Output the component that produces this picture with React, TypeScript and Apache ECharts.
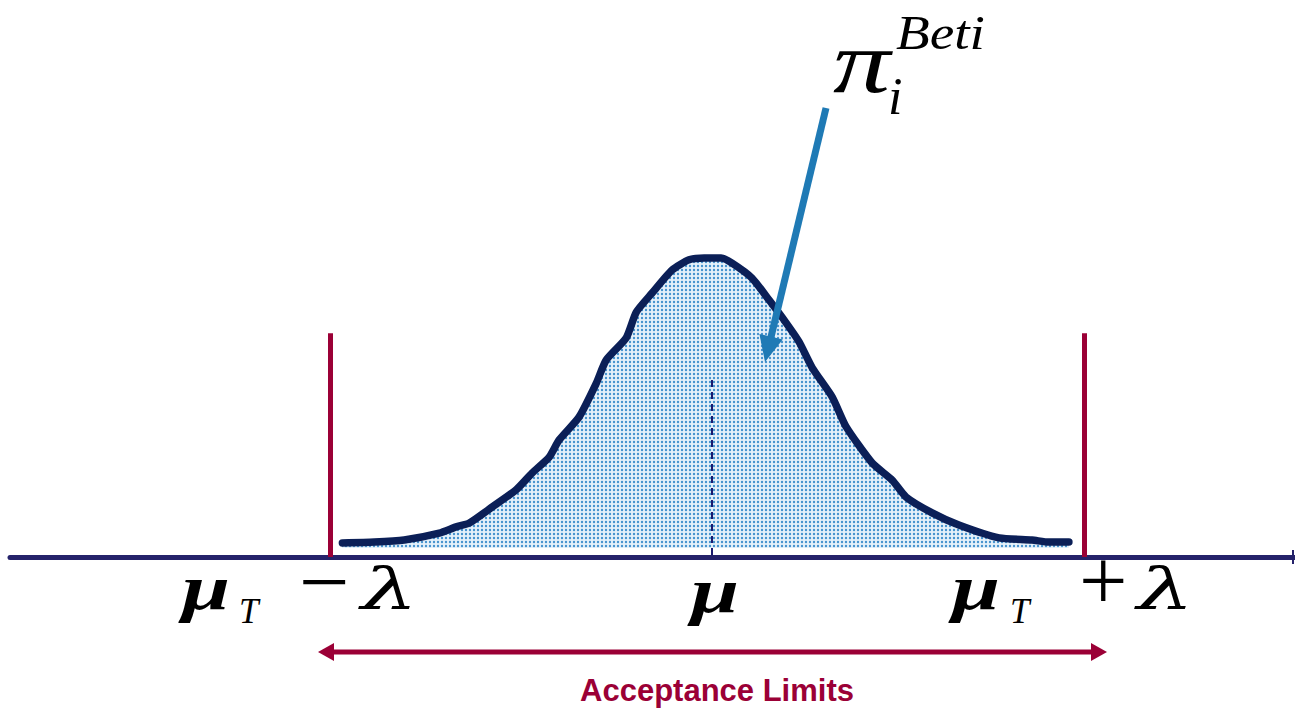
import React, { useEffect, useRef } from "react";
import * as echarts from "echarts";

// Curve of the distribution (x in units of lambda*100 around mu_T, y as % of peak)
const curveX = [-96.8, -88.3, -80.4, -71.1, -66.6, -63.1, -57.0, -50.7, -46.4, -41.9, -39.3, -34.0, -29.4, -26.8, -21.5, -18.8, -14.6, -9.3, -4.8, -0.8, 3.7, 6.6, 11.9, 16.4, 21.0, 24.4, 27.9, 33.2, 36.9, 43.8, 49.1, 52.8, 59.7, 66.8, 77.5, 86.2, 90.7, 96.0];
const curveY = [4.7, 5.0, 5.7, 8.0, 10.1, 11.4, 16.8, 22.5, 28.2, 33.5, 39.2, 46.9, 58.3, 66.0, 73.4, 82.1, 88.5, 96.2, 99.6, 100.2, 100.2, 98.5, 93.5, 86.2, 78.4, 72.1, 63.4, 53.6, 43.6, 31.5, 25.8, 20.1, 14.8, 10.7, 6.4, 5.7, 5.0, 5.0];
const limitsX = [-100, 100];
const limitHeight = 75;
const meanX = 1.3;
const meanTop = 61;
const meanBottom = 0.7;

const serif = '"Liberation Serif", "Times New Roman", serif';
const dejavu = '"DejaVu Serif", serif';

function txt(text: string, x: number, baseline: number, size: number, style: string, family: string, scaleX = 1, extra: any = {}) {
  return {
    type: "text",
    x,
    y: baseline - 0.35 * size,
    scaleX,
    z: 20,
    style: {
      text,
      font: `${style} ${size}px ${family}`,
      fill: "#000",
      verticalAlign: "middle",
      align: "left",
      ...extra,
    },
  };
}

export default function App() {
  const ref = useRef<HTMLDivElement>(null);
  useEffect(() => {
    if (!ref.current) return;
    const chart = echarts.init(ref.current, null, { renderer: "svg" });

    const cv = document.createElement("canvas");
    cv.width = 4;
    cv.height = 4;
    const ctx = cv.getContext("2d")!;
    ctx.fillStyle = "#e6f1fa";
    ctx.fillRect(0, 0, 4, 4);
    ctx.fillStyle = "#4693ce";
    ctx.beginPath();
    ctx.arc(2, 2, 1.2, 0, Math.PI * 2);
    ctx.fill();
    const patternUrl = cv.toDataURL();

    const red = "#9b0036";

    const arrowStart = [826, 108];
    const arrowTip = [765, 362];
    const dx = arrowTip[0] - arrowStart[0];
    const dy = arrowTip[1] - arrowStart[1];
    const len = Math.sqrt(dx * dx + dy * dy);
    const ux = dx / len, uy = dy / len;
    const hl = 26, hw = 12;
    const bx = arrowTip[0] - ux * hl, by = arrowTip[1] - uy * hl;

    chart.setOption({
      animation: false,
      grid: { left: 10, right: 0, top: 20, bottom: 151 },
      xAxis: {
        type: "value",
        min: -185,
        max: 156,
        axisLine: { show: true, onZero: false, lineStyle: { color: "#25226a", width: 5 } },
        axisTick: { show: false },
        axisLabel: { show: false },
        splitLine: { show: false },
      },
      yAxis: { type: "value", min: 0, max: 180, show: false, splitLine: { show: false } },
      series: [
        {
          type: "line",
          data: curveX.map((x, i) => [x, curveY[i]]),
          symbol: "none",
          smooth: 0.2,
          z: 3,
          lineStyle: { color: "#0b1f57", width: 7.5, cap: "round", join: "round" },
          areaStyle: { origin: 3, opacity: 1, color: { image: patternUrl, repeat: "repeat" } },
          markLine: {
            silent: true,
            symbol: "none",
            label: { show: false },
            animation: false,
            data: [
              ...limitsX.map((lx) => [
                { coord: [lx, 0], lineStyle: { color: red, width: 5, type: "solid" } },
                { coord: [lx, limitHeight] },
              ]),
              [
                { coord: [meanX, meanBottom], lineStyle: { color: "#1a1a6e", width: 2, type: [7, 5] } },
                { coord: [meanX, meanTop] },
              ],
            ],
          },
        },
      ],
      graphic: [
        // axis right end tick
        { type: "line", z: 20, shape: { x1: 1293, y1: 550, x2: 1293, y2: 564 }, style: { stroke: "#25226a", lineWidth: 2 } },
        // pi label
        txt("π", 833, 93, 88, "italic", serif, 1.3),
        txt("i", 888, 115, 52, "italic", serif),
        txt("Beti", 896, 50, 48, "italic", serif, 1.15),
        // blue arrow
        { type: "line", z: 20, shape: { x1: arrowStart[0], y1: arrowStart[1], x2: bx + ux * 2, y2: by + uy * 2 }, style: { stroke: "#1f7ab5", lineWidth: 7 } },
        {
          type: "polygon",
          z: 20,
          shape: { points: [arrowTip, [bx - uy * hw, by + ux * hw], [bx + uy * hw, by - ux * hw]] },
          style: { fill: "#1f7ab5" },
        },
        // left label mu_T - lambda
        txt("μ", 182, 610, 64, "bold italic", serif, 1.35),
        txt("T", 239, 624, 35, "italic", serif),
        txt("−", 299, 613, 90, "", serif),
        txt("λ", 361, 609, 58, "italic", dejavu, 1.55),
        // center mu
        txt("μ", 691, 613, 64, "bold italic", serif, 1.35),
        // right label mu_T + lambda
        txt("μ", 952, 610, 64, "bold italic", serif, 1.35),
        txt("T", 1010, 624, 35, "italic", serif),
        txt("+", 1079, 611, 86, "", serif),
        txt("λ", 1137, 609, 58, "italic", dejavu, 1.55),
        // acceptance limits double arrow
        { type: "line", z: 20, shape: { x1: 330, y1: 652, x2: 1096, y2: 652 }, style: { stroke: red, lineWidth: 5 } },
        { type: "polygon", z: 20, shape: { points: [[318, 652], [334, 643], [334, 661]] }, style: { fill: red } },
        { type: "polygon", z: 20, shape: { points: [[1107, 652], [1091, 643], [1091, 661]] }, style: { fill: red } },
        {
          type: "text",
          x: 717,
          y: 690,
          z: 20,
          style: {
            text: "Acceptance Limits",
            font: 'bold 31px "Liberation Sans", Arial, sans-serif',
            fill: red,
            align: "center",
            verticalAlign: "middle",
          },
        },
      ],
    });
    return () => chart.dispose();
  }, []);
  return <div ref={ref} style={{ position: "absolute", left: 0, top: 0, width: 1295, height: 708 }} />;
}
